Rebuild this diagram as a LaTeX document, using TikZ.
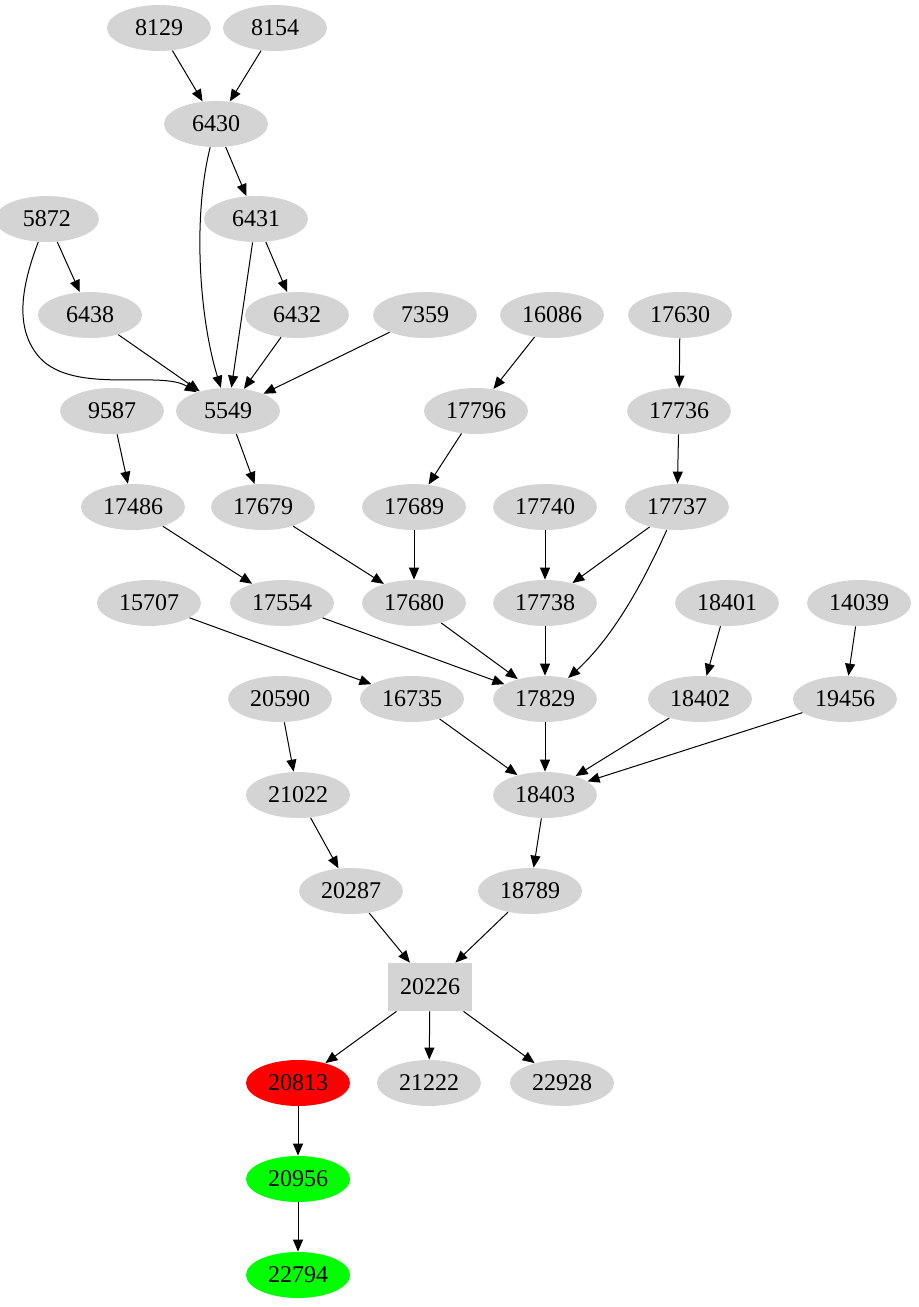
\documentclass[tikz,border=0pt]{standalone}
\usepackage{fontspec}
\setmainfont{Liberation Serif}
\usetikzlibrary{shapes.geometric,arrows.meta}
\begin{document}
\begin{tikzpicture}[x=0.5pt,y=-0.5pt,
  nd/.style={ellipse,fill=black!17,minimum width=52pt,minimum height=23pt,inner sep=0pt,font=\fontsize{12}{14}\selectfont},
  bx/.style={rectangle,fill=black!17,minimum width=42pt,minimum height=24pt,inner sep=0pt,font=\fontsize{12}{14}\selectfont},
  e/.style={-{Triangle[length=6pt,width=5pt]},line width=0.5pt},
  every path/.style={}]
\useasboundingbox (0,0) rectangle (918,1307);
\foreach \n/\x/\y in {8129/159/28,8154/275/28,6430/216/124,5872/47/219,6431/256/219,
 6438/90/315,6432/297/315,7359/425/315,16086/552/315,17630/680/315,
 9587/112/411,5549/228/411,17796/476/411,17736/679/411,
 17486/133/507,17679/263/507,17689/414/507,17740/545/507,17737/677/507,
 15707/149/603,17554/282/603,17680/414/603,17738/545/603,18401/727/603,14039/859/603,
 20590/280/699,16735/412/699,17829/545/699,18402/700/699,19456/845/699,
 21022/298/795,18403/545/795,20287/351/891,18789/530/891,
 21222/429/1083,22928/562/1083}
 {\node[nd] (n\n) at (\x,\y) {\n};}
\node[bx] (n20226) at (430,987) {20226};
\node[nd,fill=red] (n20813) at (298,1083) {20813};
\node[nd,fill=green] (n20956) at (298,1179) {20956};
\node[nd,fill=green] (n22794) at (298,1275) {22794};
\foreach \a/\b in {8129/6430,8154/6430,6430/6431,5872/6438,6431/5549,6431/6432,6438/5549,
 6432/5549,7359/5549,16086/17796,17630/17736,9587/17486,5549/17679,17796/17689,17736/17737,
 17486/17554,17679/17680,17689/17680,17740/17738,17737/17738,15707/16735,17554/17829,
 17680/17829,17738/17829,18401/18402,14039/19456,20590/21022,16735/18403,17829/18403,
 18402/18403,19456/18403,21022/20287,18403/18789,20287/20226,18789/20226,20226/20813,
 20226/21222,20226/22928,20813/20956,20956/22794}
 {\draw[e] (n\a) -- (n\b);}
\draw[e] (n6430) .. controls (192,220) and (200,320) .. (n5549);
\draw[e] (n5872) .. controls (20,290) and (15,330) .. (40,358) .. controls (75,395) and (160,370) .. (n5549);
\draw[e] (n17737) .. controls (640,590) and (610,640) .. (n17829);
\end{tikzpicture}
\end{document}
